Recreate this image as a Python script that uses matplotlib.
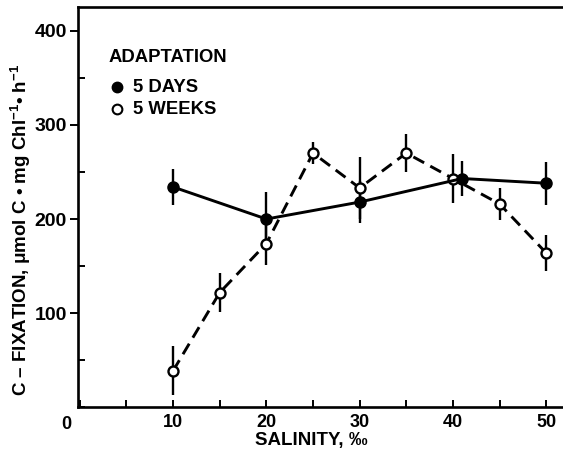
import matplotlib
matplotlib.use('Agg')
import matplotlib.pyplot as plt
from matplotlib.ticker import MultipleLocator
import matplotlib.transforms as mtransforms

plt.rcParams['font.family'] = ['Liberation Sans', 'DejaVu Sans']
plt.rcParams['font.weight'] = 'bold'
plt.rcParams['mathtext.fontset'] = 'custom'
plt.rcParams['mathtext.rm'] = 'Liberation Sans:bold'
plt.rcParams['mathtext.bf'] = 'Liberation Sans:bold'

# 5 days adaptation
days_x = [10, 20, 30, 41, 50]
days_y = [234, 200, 218, 243, 238]
days_err = [19, 29, 22, 19, 23]

# 5 weeks adaptation
weeks_x = [10, 15, 20, 25, 30, 35, 40, 45, 50]
weeks_y = [39, 122, 174, 270, 233, 270, 243, 216, 164]
weeks_err = [26, 21, 23, 12, 33, 20, 26, 17, 19]

xticks = [10, 20, 30, 40, 50]
yticks = [100, 200, 300, 400]

fig = plt.figure(figsize=(5.63, 4.55), dpi=100)
ax = fig.add_axes([0.1385, 0.1044, 0.8615, 0.8802])

ax.errorbar(weeks_x, weeks_y, yerr=weeks_err, fmt='none', ecolor='black',
            elinewidth=1.7, capsize=0, zorder=2)
ax.errorbar(days_x, days_y, yerr=days_err, fmt='none', ecolor='black',
            elinewidth=1.7, capsize=0, zorder=2)
ax.plot(weeks_x, weeks_y, color='black', lw=2.1, dashes=(4.2, 2.4),
        marker='o', ms=7.2, mfc='white', mec='black', mew=1.7, zorder=3)
ax.plot(days_x, days_y, color='black', lw=2.1, ls='-',
        marker='o', ms=8, mfc='black', mec='black', zorder=4)

ax.set_xlim(-0.2, 51.8)
ax.set_ylim(0, 425)
ax.set_xticks(xticks)
ax.xaxis.set_minor_locator(MultipleLocator(5))
ax.set_yticks(yticks)
ax.yaxis.set_minor_locator(MultipleLocator(50))

ax.spines['right'].set_visible(False)
for s in ['left', 'bottom', 'top']:
    ax.spines[s].set_linewidth(1.9)

ax.tick_params(axis='x', which='both', direction='in', length=5, width=1.4,
               labelsize=13, pad=5)
ax.tick_params(axis='y', which='major', direction='out', length=6, width=1.4,
               labelsize=14, pad=2)
ax.tick_params(axis='y', which='minor', direction='in', length=5, width=1.4)

# the zero label sits left of the origin
trans = mtransforms.blended_transform_factory(ax.transData, ax.transAxes)
ax.text(-1.4, -0.021, '0', transform=trans, ha='center', va='top',
        fontsize=13, fontweight='bold')

# key
ax.text(0.062, 0.875, 'ADAPTATION', transform=ax.transAxes, fontsize=13.3,
        fontweight='bold', va='center')
ax.plot([0.081], [0.80], transform=ax.transAxes, marker='o', ms=7.5,
        mfc='black', mec='black', clip_on=False)
ax.text(0.113, 0.80, '5 DAYS', transform=ax.transAxes, fontsize=13.3,
        fontweight='bold', va='center')
ax.plot([0.081], [0.745], transform=ax.transAxes, marker='o', ms=7,
        mfc='white', mec='black', mew=1.5, clip_on=False)
ax.text(0.113, 0.745, '5 WEEKS', transform=ax.transAxes, fontsize=13.3,
        fontweight='bold', va='center')

fig.text(311 / 563, 1 - 441 / 455, 'SALINITY, ‰', ha='center', va='center',
         fontsize=13.5, fontweight='bold')
fig.text(21 / 563, 1 - 230 / 455,
         r'C – FIXATION, μmol C • mg Chl$^{\mathbf{-1}}$• h$^{\mathbf{-1}}$',
         rotation=90, ha='center', va='center', fontsize=13.5, fontweight='bold')

fig.savefig('out.png', dpi=100)
